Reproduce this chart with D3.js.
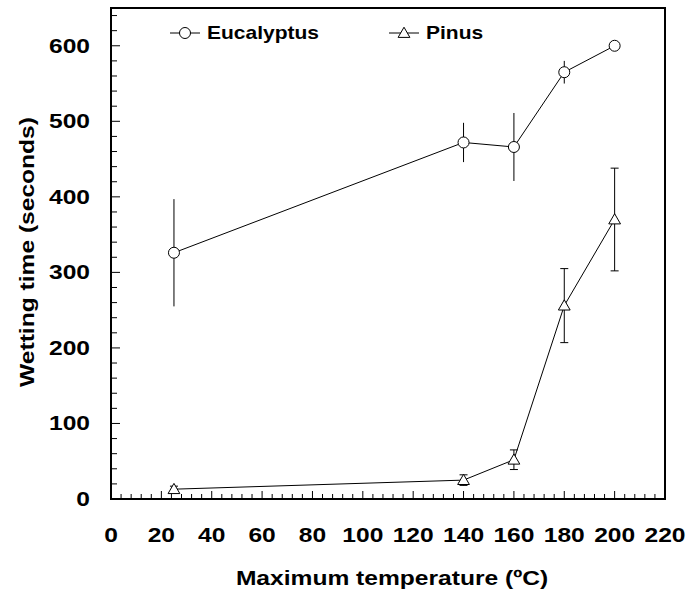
<!DOCTYPE html>
<html>
<head>
<meta charset="utf-8">
<script src="https://cdn.jsdelivr.net/npm/d3@7"></script>
<style>
  body { margin: 0; background: #fff; }
  svg { display: block; }
  text { font-family: "Liberation Sans", Arial, sans-serif; font-weight: bold; fill: #000; }
</style>
</head>
<body>
<svg width="688" height="595"></svg>
<script>
// data
const temps = [25, 140, 160, 180, 200];
const eucalyptus = [326, 472, 466, 565, 600];
const eucalyptusErr = [71, 26, 45, 15, 0];
const pinus = [13, 25, 52, 256, 370];
const pinusErr = [4, 7, 13, 49, 68];
const xTicks = [0, 20, 40, 60, 80, 100, 120, 140, 160, 180, 200, 220];
const yTicks = [0, 100, 200, 300, 400, 500, 600];

const svg = d3.select("svg");
const plotLeft = 111, plotRight = 665, plotTop = 8, plotBottom = 499;
const stretch = 1.2; // the figure's lettering is wider than plain Arial

const x = d3.scaleLinear().domain([0, 220]).range([plotLeft, plotRight]);
const y = d3.scaleLinear().domain([0, 650]).range([plotBottom, plotTop]);

// frame
svg.append("rect")
    .attr("x", plotLeft).attr("y", plotTop)
    .attr("width", plotRight - plotLeft).attr("height", plotBottom - plotTop)
    .attr("fill", "none").attr("stroke", "#000").attr("stroke-width", 2);

// minor / major ticks, pointing inward
const xMinor = d3.range(0, 220, 4).filter(v => v % 20 !== 0);
svg.selectAll(".xminor").data(xMinor).enter().append("line")
    .attr("x1", d => x(d)).attr("x2", d => x(d))
    .attr("y1", plotBottom).attr("y2", plotBottom - 5)
    .attr("stroke", "#000").attr("stroke-width", 1);
svg.selectAll(".xmajor").data(xTicks.slice(1, -1)).enter().append("line")
    .attr("x1", d => x(d)).attr("x2", d => x(d))
    .attr("y1", plotBottom).attr("y2", plotBottom - 8)
    .attr("stroke", "#000").attr("stroke-width", 1);

const yMinor = d3.range(0, 650, 20).filter(v => v % 100 !== 0);
svg.selectAll(".yminor").data(yMinor).enter().append("line")
    .attr("x1", plotLeft).attr("x2", plotLeft + 6)
    .attr("y1", d => y(d)).attr("y2", d => y(d))
    .attr("stroke", "#000").attr("stroke-width", 1);
svg.selectAll(".ymajor").data(yTicks.slice(1)).enter().append("line")
    .attr("x1", plotLeft).attr("x2", plotLeft + 9)
    .attr("y1", d => y(d)).attr("y2", d => y(d))
    .attr("stroke", "#000").attr("stroke-width", 1);

// tick labels
svg.selectAll(".xlab").data(xTicks).enter().append("text")
    .attr("transform", d => "translate(" + x(d) + ",535) scale(" + stretch + ",1)")
    .attr("text-anchor", "middle").attr("dominant-baseline", "central")
    .attr("font-size", 20.5)
    .text(d => d);
svg.selectAll(".ylab").data(yTicks).enter().append("text")
    .attr("transform", d => "translate(90," + y(d) + ") scale(" + stretch + ",1)")
    .attr("text-anchor", "end").attr("dominant-baseline", "central")
    .attr("font-size", 20.5)
    .text(d => d);

// axis titles
svg.append("text")
    .attr("transform", "translate(392,578) scale(" + stretch + ",1)")
    .attr("text-anchor", "middle").attr("dominant-baseline", "central")
    .attr("font-size", 20.5)
    .text("Maximum temperature (ºC)");
svg.append("text")
    .attr("transform", "translate(27,252) rotate(-90) scale(" + stretch + ",1)")
    .attr("text-anchor", "middle").attr("dominant-baseline", "central")
    .attr("font-size", 20.5)
    .text("Wetting time (seconds)");

const line = d3.line().x(d => x(d[0])).y(d => y(d[1]));
const tri = d3.symbol().type(d3.symbolTriangle).size(60);

function drawSeries(vals, errs, marker, caps) {
    const pts = temps.map((t, i) => [t, vals[i], errs[i]]);
    const g = svg.append("g");
    g.selectAll(".err").data(pts.filter(d => d[2] > 0)).enter().append("line")
        .attr("x1", d => x(d[0])).attr("x2", d => x(d[0]))
        .attr("y1", d => y(d[1] - d[2])).attr("y2", d => y(d[1] + d[2]))
        .attr("stroke", "#000").attr("stroke-width", 1);
    if (caps) {
        [-1, 1].forEach(s => {
            g.selectAll(".cap").data(pts.filter(d => d[2] > 0)).enter().append("line")
                .attr("x1", d => x(d[0]) - 4).attr("x2", d => x(d[0]) + 4)
                .attr("y1", d => y(d[1] + s * d[2])).attr("y2", d => y(d[1] + s * d[2]))
                .attr("stroke", "#000").attr("stroke-width", 1);
        });
    }
    g.append("path").attr("d", line(pts))
        .attr("fill", "none").attr("stroke", "#000").attr("stroke-width", 1);
    pts.forEach(d => marker(g, x(d[0]), y(d[1])));
}

function circleMark(g, cx, cy) {
    g.append("circle").attr("cx", cx).attr("cy", cy).attr("r", 5.5)
        .attr("fill", "#fff").attr("stroke", "#000").attr("stroke-width", 1);
}
function triMark(g, cx, cy) {
    g.append("path").attr("d", tri())
        .attr("transform", "translate(" + cx + "," + (cy + 1) + ")")
        .attr("fill", "#fff").attr("stroke", "#000").attr("stroke-width", 1);
}

drawSeries(eucalyptus, eucalyptusErr, circleMark, false);
drawSeries(pinus, pinusErr, triMark, true);

// legend
const legend = [
    { name: "Eucalyptus", x1: 170, mark: circleMark },
    { name: "Pinus", x1: 389, mark: triMark }
];
legend.forEach(l => {
    svg.append("line")
        .attr("x1", l.x1).attr("x2", l.x1 + 30)
        .attr("y1", 33).attr("y2", 33)
        .attr("stroke", "#000").attr("stroke-width", 1);
    l.mark(svg, l.x1 + 15, 33);
    svg.append("text")
        .attr("transform", "translate(" + (l.x1 + 37) + ",33) scale(" + stretch + ",1)")
        .attr("dominant-baseline", "central")
        .attr("font-size", 17.5)
        .text(l.name);
});
</script>
</body>
</html>
